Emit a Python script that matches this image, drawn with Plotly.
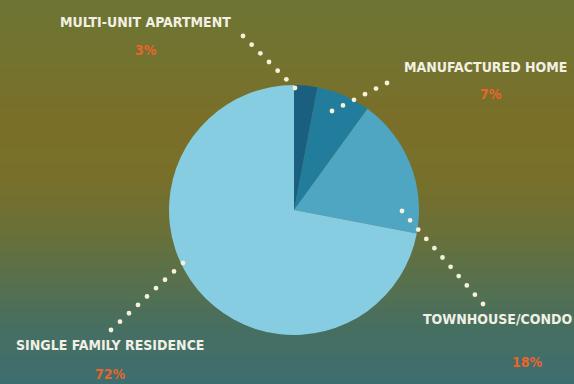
import numpy as np
import plotly.graph_objects as go

# Housing type shares (%)
categories = ["MULTI-UNIT APARTMENT", "MANUFACTURED HOME", "TOWNHOUSE/CONDO", "SINGLE FAMILY RESIDENCE"]
shares = [3, 7, 18, 72]
slice_colors = ["#1b5f80", "#227d9c", "#4ea6c2", "#86cde2"]

W, H = 574, 384

fig = go.Figure()

# Pie centred at (294, 210) px with radius ~125 px
cx, cy, r = 294, 210, 125
fig.add_trace(go.Pie(
    labels=categories,
    values=shares,
    sort=False,
    direction="clockwise",
    rotation=0,
    textinfo="none",
    hoverinfo="label+percent",
    marker=dict(colors=slice_colors, line=dict(width=0)),
    domain=dict(x=[(cx - r) / W, (cx + r) / W],
                y=[1 - (cy + r) / H, 1 - (cy - r) / H]),
    showlegend=False,
))

# Vertical background gradient built from thin strips
stops = [(0, (110, 116, 50)), (60, (115, 115, 48)), (120, (122, 111, 40)),
         (180, (120, 112, 42)), (230, (106, 112, 56)), (280, (88, 112, 76)),
         (330, (70, 111, 98)), (384, (61, 110, 112))]
sy = np.array([s[0] for s in stops], dtype=float)
sc = np.array([s[1] for s in stops], dtype=float)
shapes = []
step = 4
for y0 in range(0, H, step):
    ym = y0 + step / 2
    col = [int(round(np.interp(ym, sy, sc[:, k]))) for k in range(3)]
    shapes.append(dict(type="rect", xref="paper", yref="paper",
                       x0=0, x1=1, y0=1 - (y0 + step) / H, y1=1 - y0 / H,
                       fillcolor=f"rgb({col[0]},{col[1]},{col[2]})",
                       line=dict(width=0), layer="below"))

# Dotted leader lines (pixel endpoints, number of dots)
leaders = [((243, 36), (295, 88), 7),
           ((387, 83), (332, 111), 6),
           ((402, 211), (483, 304), 11),
           ((183, 263), (111, 330), 9)]
dot_r = 2.4
for (x0, y0), (x1, y1), n in leaders:
    for t in np.linspace(0, 1, n):
        px = x0 + (x1 - x0) * t
        py = y0 + (y1 - y0) * t
        shapes.append(dict(type="circle", xref="paper", yref="paper",
                           x0=(px - dot_r) / W, x1=(px + dot_r) / W,
                           y0=1 - (py + dot_r) / H, y1=1 - (py - dot_r) / H,
                           fillcolor="#f4f1d6", line=dict(width=0),
                           layer="above"))

# Label positions (pixel centres) for category names and percentages
name_pos = [(145, 22), (485, 67), (497, 319), (110, 345)]
pct_pos = [(146, 50), (491, 94), (527, 362), (110, 374)]

label_font = dict(family="DejaVu Sans Condensed, sans-serif",
                  size=14, color="#f2f0e4", weight="bold")
pct_font = dict(family="DejaVu Sans Condensed, sans-serif",
                size=14, color="#e8652c", weight="bold")

annotations = []
for name, share, (nx, ny), (qx, qy) in zip(categories, shares, name_pos, pct_pos):
    annotations.append(dict(text=name, x=nx / W, y=1 - ny / H, xref="paper", yref="paper",
                            xanchor="center", yanchor="middle", showarrow=False,
                            font=label_font))
    annotations.append(dict(text=f"{share}%", x=qx / W, y=1 - qy / H, xref="paper", yref="paper",
                            xanchor="center", yanchor="middle", showarrow=False,
                            font=pct_font))

fig.update_layout(
    width=W, height=H,
    margin=dict(l=0, r=0, t=0, b=0),
    paper_bgcolor="#6e7236",
    plot_bgcolor="rgba(0,0,0,0)",
    shapes=shapes,
    annotations=annotations,
)

fig.write_html("out.html")
